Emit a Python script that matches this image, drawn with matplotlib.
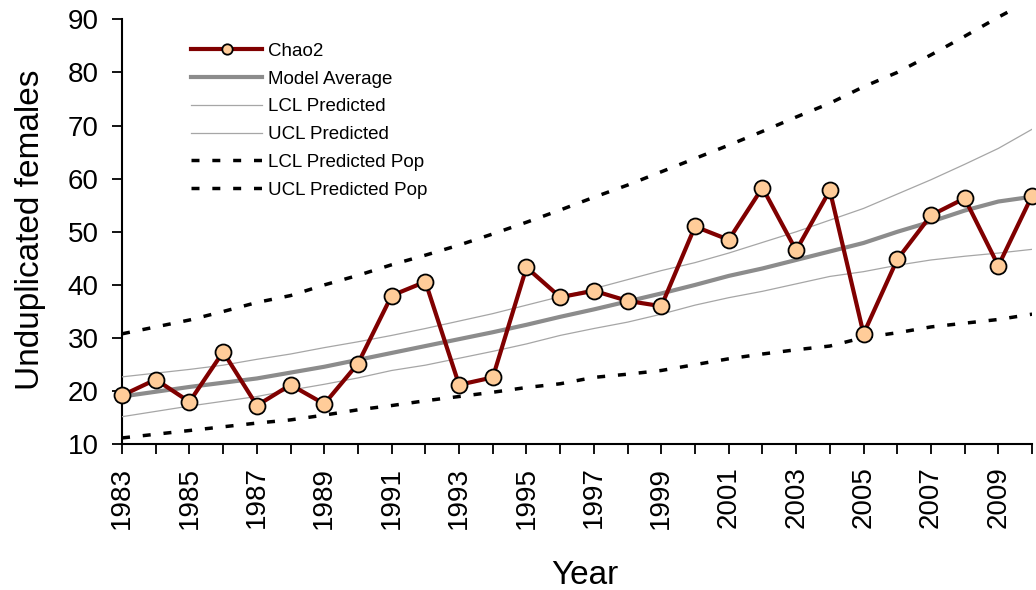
import matplotlib
matplotlib.use("Agg")
import matplotlib.pyplot as plt
from matplotlib.transforms import Bbox

years = list(range(1983, 2011))

chao2 = [19.2, 22.2, 18.0, 27.4, 17.3, 21.2, 17.6, 25.2, 38.0, 40.6,
         21.2, 22.6, 43.3, 37.7, 38.9, 37.0, 36.0, 51.0, 48.5, 58.3,
         46.5, 57.8, 30.8, 44.8, 53.1, 56.3, 43.6, 56.8]

model_avg = [19.0, 19.9, 20.8, 21.6, 22.4, 23.5, 24.6, 25.9, 27.2, 28.5,
             29.8, 31.1, 32.5, 34.0, 35.4, 36.9, 38.4, 40.0, 41.7, 43.1,
             44.7, 46.3, 47.9, 50.0, 51.9, 54.0, 55.7, 56.6]

lcl_pred = [15.2, 16.2, 17.2, 18.1, 19.0, 20.2, 21.3, 22.5, 23.9, 24.9,
            26.2, 27.5, 28.9, 30.5, 31.8, 33.0, 34.5, 36.2, 37.6, 38.8,
            40.2, 41.6, 42.5, 43.7, 44.7, 45.4, 46.0, 46.7]

ucl_pred = [22.7, 23.4, 24.1, 24.9, 26.0, 27.0, 28.2, 29.3, 30.5, 31.8,
            33.2, 34.6, 36.2, 37.8, 39.3, 41.0, 42.7, 44.2, 46.0, 48.0,
            50.0, 52.2, 54.4, 57.1, 59.8, 62.7, 65.7, 69.3]

lcl_pop = [11.2, 11.9, 12.6, 13.3, 14.0, 14.6, 15.5, 16.5, 17.3, 18.2,
           19.0, 19.8, 20.7, 21.4, 22.6, 23.2, 23.9, 25.0, 26.1, 27.0,
           27.8, 28.5, 30.1, 31.0, 32.1, 32.8, 33.5, 34.5]

ucl_pop = [30.8, 32.1, 33.4, 35.0, 36.7, 38.0, 40.0, 41.8, 43.8, 45.6,
           47.5, 49.6, 51.8, 54.1, 56.5, 58.8, 61.3, 63.8, 66.3, 68.9,
           71.6, 74.2, 77.3, 80.0, 83.3, 86.8, 90.4, 93.8]

plt.rcParams["font.family"] = ["Liberation Sans", "DejaVu Sans"]

fig = plt.figure(figsize=(10.36, 5.9), dpi=100)
ax = fig.add_axes([0.1178, 0.2469, 0.8784, 0.7204])

ax.plot(years, chao2, color="#800000", lw=3, marker="o", ms=11.5,
        mfc="#FFCC99", mec="black", mew=1.3, label="Chao2", zorder=5, clip_on=False)
ax.plot(years, model_avg, color="#8c8c8c", lw=3, label="Model Average", zorder=4)
ax.plot(years, lcl_pred, color="#a6a6a6", lw=0.9, label="LCL Predicted", zorder=3)
ax.plot(years, ucl_pred, color="#a6a6a6", lw=0.9, label="UCL Predicted", zorder=3)
ax.plot(years, lcl_pop, color="black", lw=2.5, dashes=(2.3, 3.7), label="LCL Predicted Pop", zorder=3)
upper, = ax.plot(years, ucl_pop, color="black", lw=2.5, dashes=(2.3, 3.7),
                 label="UCL Predicted Pop", zorder=3)

ax.set_xlim(1983, 2010)
ax.set_ylim(10, 90)
ax.set_yticks(range(10, 91, 10))
ax.set_xticks(range(1983, 2010, 2))
ax.set_xticks(years, minor=True)
ax.tick_params(axis="both", which="both", direction="out", length=7, width=1.3, labelsize=20)
ax.tick_params(axis="y", pad=10)
ax.tick_params(axis="x", which="major", pad=9, labelrotation=90)
for s in ["top", "right"]:
    ax.spines[s].set_visible(False)
for s in ["left", "bottom"]:
    ax.spines[s].set_linewidth(1.5)

ax.set_xlabel("Year", fontsize=24)
ax.set_ylabel("Unduplicated females", fontsize=24)
ax.xaxis.set_label_coords(0.509, -0.272)
ax.yaxis.set_label_coords(-0.084, 0.505)

leg = ax.legend(loc="upper left", bbox_to_anchor=(0.076, 0.945), frameon=False,
                fontsize=13.5, handlelength=3.8, handletextpad=0.32,
                labelspacing=0.57, borderpad=0, borderaxespad=0, markerscale=0.65)

fig.canvas.draw()
# plot area in the original reaches a bit above the y axis top
upper.set_clip_box(Bbox.from_extents(0, 0, 1036, 590 - 9))
clip = Bbox.from_extents(0, 590 - 530, 1036, 590)
for lab in ax.get_xticklabels():
    lab.set_clip_box(clip)
    lab.set_clip_on(True)

fig.savefig("out.png", dpi=100)
